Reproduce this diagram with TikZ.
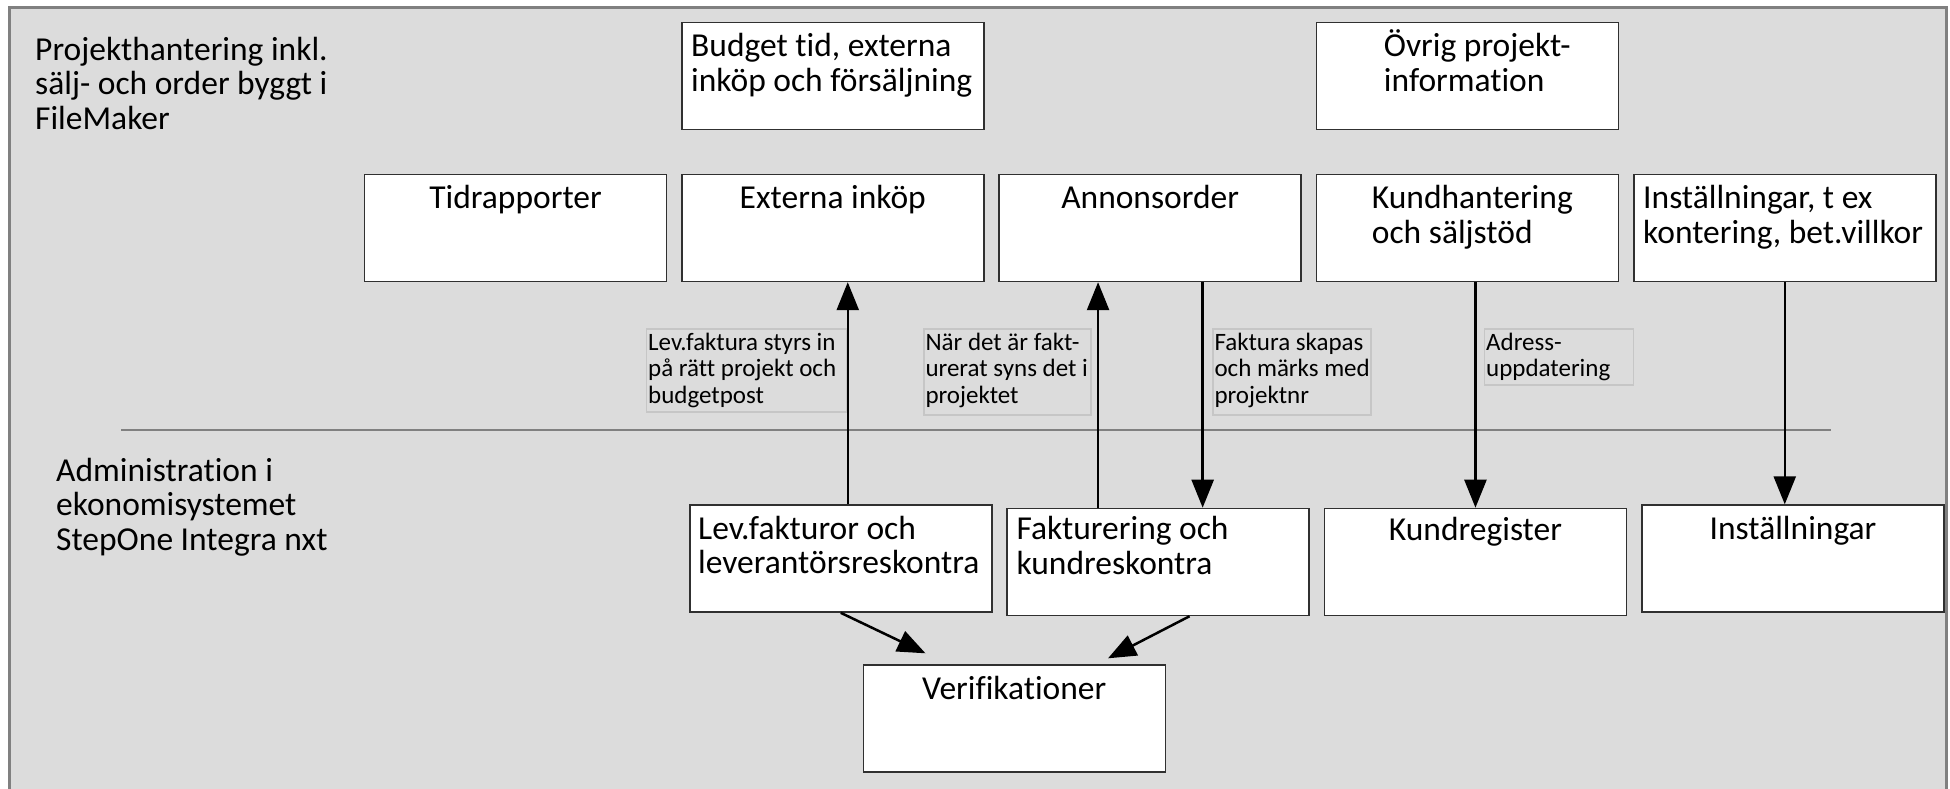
\documentclass[tikz,border=0pt]{standalone}
\usepackage{fontspec}
\setmainfont{Carlito}[RawFeature={-liga;-clig;-calt}]
\usetikzlibrary{arrows.meta}
\definecolor{bggray}{HTML}{DCDCDC}
\definecolor{framegray}{HTML}{808080}
\definecolor{boxline}{HTML}{303030}
\definecolor{noteline}{HTML}{C6C6C6}
\newcommand{\bigtext}{\fontsize{33.5}{34.5}\selectfont}
\newcommand{\smalltext}{\fontsize{25}{26.5}\selectfont}

\begin{document}
\begin{tikzpicture}[x=1pt,y=-1pt]
\tikzset{arr/.style={-{Triangle[length=28pt,width=22pt]},line width=2.5pt}}
\tikzset{box/.style={draw=boxline,fill=white,line width=1.5pt,minimum width=302pt,minimum height=107pt,inner sep=0pt,anchor=north west}}
\tikzset{txtc/.style={anchor=base,yshift=-35pt,inner sep=0pt,align=left,font=\bigtext}}
\tikzset{txtl/.style={anchor=base west,yshift=-35pt,inner sep=0pt,align=left,font=\bigtext}}
\tikzset{twolines/.style={yshift=-34.5pt}}
\tikzset{note/.style={draw=noteline,line width=1.2pt,inner sep=0pt,anchor=north west}}
\tikzset{notetxt/.style={anchor=base west,xshift=2pt,yshift=-22pt,inner sep=0pt,align=left,font=\smalltext}}
\tikzset{title/.style={anchor=base west,inner sep=0pt,align=left,font=\bigtext}}

\useasboundingbox (0,0) rectangle (1950,788);
\fill[white] (0,0) rectangle (1950,788);
\draw[framegray,fill=bggray,line width=3pt] (9.5,7.5) rectangle (1946.5,800);

% section texts (base = last line)
\node[title] (proj) at (35,129) {Projekthantering inkl.\\s\"alj- och order byggt i\\FileMaker};
\node[title] (admin) at (56,550) {Administration i\\ekonomisystemet\\StepOne Integra nxt};
\draw[framegray,line width=1.5pt] (121,430) -- (1831,430);

% FileMaker boxes
\node[box,label={[txtl,twolines,xshift=10pt]north west:Budget tid, externa\\ink\"op och f\"ors\"aljning}] (budget) at (681,21.7) {};
\node[box,label={[txtl,twolines,xshift=68pt]north west:\"Ovrig projekt-\\information}] (ovrig) at (1315.7,21.7) {};

\node[box,label={[txtc]north:Tidrapporter}] (tid) at (363.8,173.7) {};
\node[box,label={[txtc]north:Externa ink\"op}] (ext) at (681,173.7) {};
\node[box,label={[txtc]north:Annonsorder}] (ann) at (998.4,173.7) {};
\node[box,label={[txtl,twolines,xshift=56pt]north west:Kundhantering\\och s\"aljst\"od}] (kund) at (1315.7,173.7) {};
\node[box,label={[txtl,twolines,xshift=10pt]north west:Inst\"allningar, t ex\\kontering, bet.villkor}] (inst) at (1633,173.7) {};

% StepOne boxes
\node[box,label={[txtl,twolines,xshift=9pt]north west:Lev.fakturor och\\leverant\"orsreskontra}] (lev) at (689,504.3) {};
\node[box,label={[txtl,twolines,xshift=10pt,yshift=3pt]north west:Fakturering och\\kundreskontra}] (fakt) at (1006.3,507.7) {};
\node[box,label={[txtc,yshift=2pt]north:Kundregister}] (kreg) at (1323.7,507.7) {};
\node[box,label={[txtc]north:Inst\"allningar}] (instb) at (1641.3,504.3) {};
\node[box,label={[txtc]north:Verifikationer}] (verif) at (862.5,664.3) {};

% notes
\node[note,minimum width=200pt,minimum height=83pt,label={[notetxt,yshift=-53pt]north west:Lev.faktura styrs in\\p\aa{} r\"att projekt och\\budgetpost}] (n1) at (646,328.3) {};
\node[note,minimum width=167pt,minimum height=86pt,label={[notetxt,yshift=-53pt]north west:N\"ar det \"ar fakt-\\urerat syns det i\\projektet}] (n2) at (923.3,328.3) {};
\node[note,minimum width=158pt,minimum height=86pt,label={[notetxt,yshift=-53pt]north west:Faktura skapas\\och m\"arks med\\projektnr}] (n3) at (1212.3,328.3) {};
\node[note,minimum width=149pt,minimum height=56pt,label={[notetxt,yshift=-26.5pt]north west:Adress-\\uppdatering}] (n4) at (1484,328.3) {};

% connectors
\draw[arr] ([xshift=7pt]lev.north) -- ([xshift=7pt]lev.north |- ext.south);
\draw[arr] ([xshift=-60pt]fakt.north) -- ([xshift=-60pt]fakt.north |- ann.south);
\draw[arr] ([xshift=52.5pt]ann.south) -- ([xshift=52.5pt]ann.south |- fakt.north);
\draw[arr] ([xshift=8pt]kund.south) -- ([xshift=8pt]kund.south |- kreg.north);
\draw[arr] (inst.south) -- (inst.south |- instb.north);
\draw[arr] (lev.south) -- ([shift={(63pt,11pt)}]verif.north west);
\draw[arr] ([xshift=31.5pt]fakt.south) -- ([shift={(-58pt,6pt)}]verif.north east);
\end{tikzpicture}
\end{document}
